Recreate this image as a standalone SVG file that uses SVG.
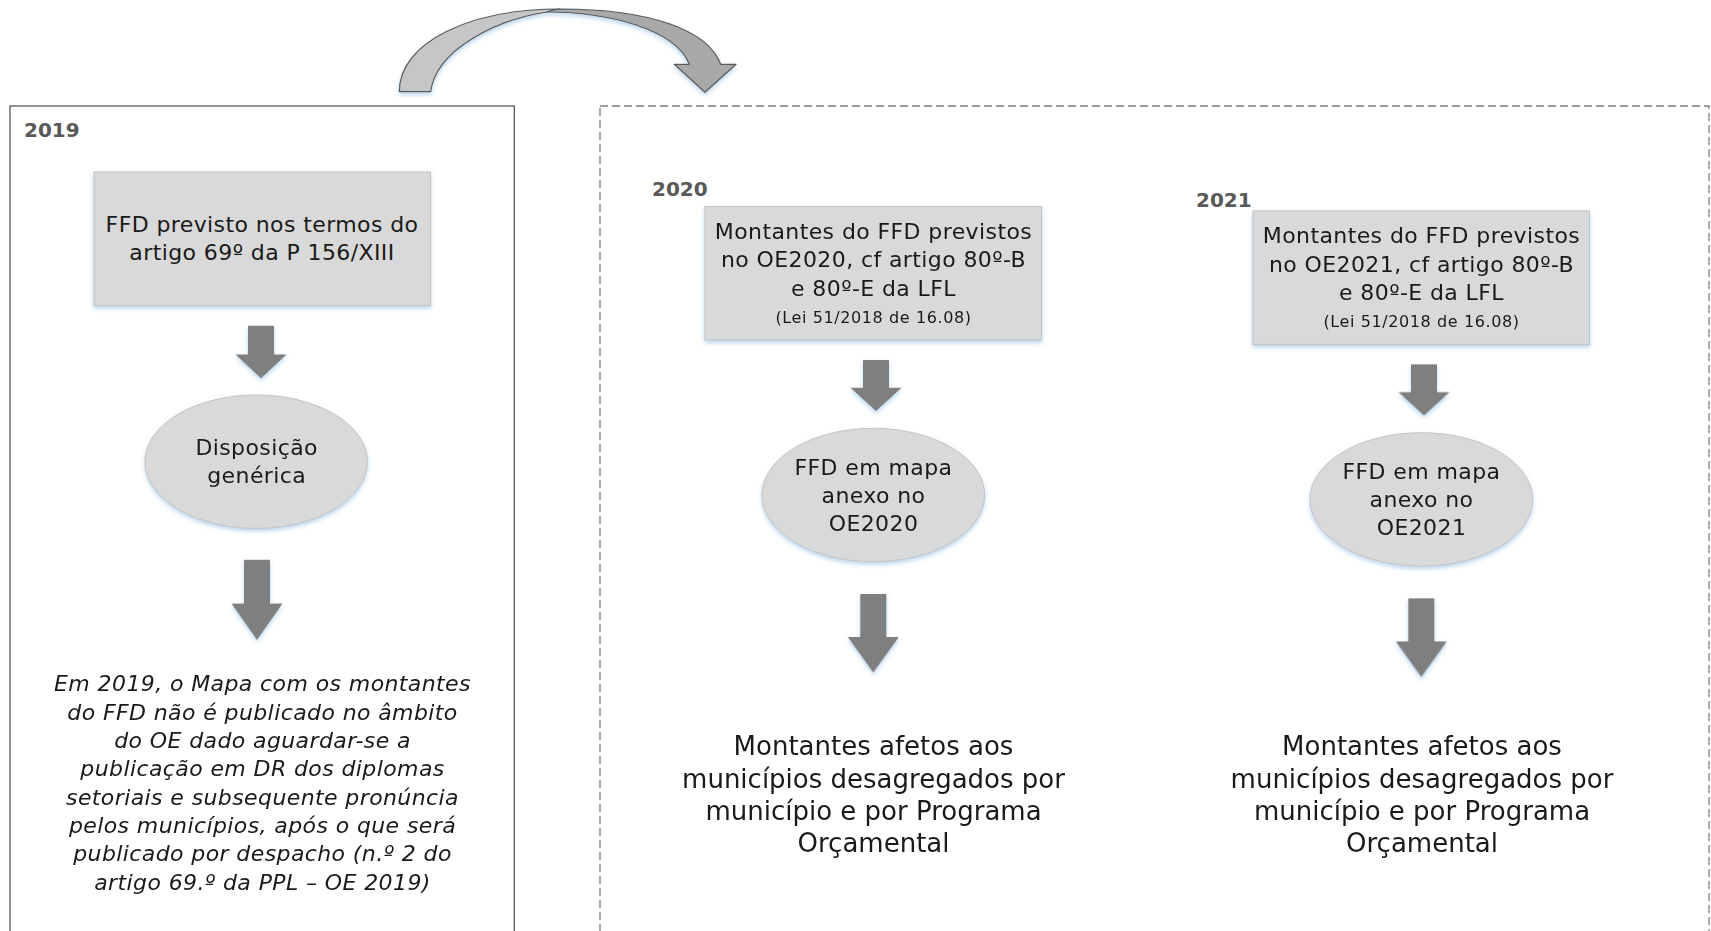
<svg xmlns="http://www.w3.org/2000/svg" width="1711" height="931" viewBox="0 0 1711 931">
<style>
.t{font-family:"DejaVu Sans","Verdana",sans-serif;font-size:22px;fill:#1a1a1a;text-anchor:middle;letter-spacing:0.4px}
.it{font-style:italic}
.sm{font-size:16px;letter-spacing:0.6px}
.big{font-size:26px;letter-spacing:0}
.yr{font-family:"DejaVu Sans","Verdana",sans-serif;font-size:20px;font-weight:bold;fill:#595959}
.box{fill:#d9d9d9;stroke:#c4c4c4;stroke-width:1}
.ell{fill:#d9d9d9;stroke:#c4c4c4;stroke-width:1}
.arr{fill:#7f7f7f}
</style>
<defs>
<filter id="sh" x="-20%" y="-20%" width="140%" height="150%">
<feDropShadow dx="0" dy="2.5" stdDeviation="2" flood-color="#9cc3e6" flood-opacity="0.7"/>
</filter>
<path id="dn" d="M-13,0 H13 V29 H25.5 L0,53 L-25.5,29 H-13 Z"/>
</defs>
<rect width="1711" height="931" fill="#ffffff"/>

<g id="frame2019">
<rect x="10" y="106" width="504.3" height="900" fill="none" stroke="#595959" stroke-width="1.3"/>
<text class="yr" x="24" y="137">2019</text>
</g>
<g id="frame2020-2021">
<rect x="600" y="106" width="1109" height="900" fill="none" stroke="#7f7f7f" stroke-width="1.3" stroke-dasharray="8,4"/>
<text class="yr" x="652" y="196">2020</text>
<text class="yr" x="1196" y="207">2021</text>
</g>

<g id="connectors">
<g id="curved-arrow" filter="url(#sh)" stroke="#595959" stroke-width="1.2" stroke-linejoin="round">
<path d="M399.3,91.7 C399.3,42 470,9 560,9 C555,9.5 551,10.5 547,12 C495,20 436,50 430.7,91.7 Z" fill="#c6c6c6"/>
<path d="M547,12 C605,12 675,28 689.3,64.3 L674.3,64.3 L705,92.3 L736,64.3 L720.7,64.3 C708,30 650,9 560,9 C555,9.5 551,10.5 547,12 Z" fill="#a9a9a9"/>
</g>
<g filter="url(#sh)">
<use href="#dn" class="arr" transform="translate(261,325.7) scale(1,0.99)"/>
<use href="#dn" class="arr" transform="translate(257,559.8) scale(1,1.51)"/>
<use href="#dn" class="arr" transform="translate(876,360) scale(1,0.96)"/>
<use href="#dn" class="arr" transform="translate(873.3,594) scale(1,1.48)"/>
<use href="#dn" class="arr" transform="translate(1424,364.4) scale(1,0.96)"/>
<use href="#dn" class="arr" transform="translate(1421.3,598.4) scale(1,1.48)"/>
</g>
</g>

<g id="box2019">
<rect class="box" x="94" y="172" width="336.5" height="133.5" filter="url(#sh)"/>
<text class="t" x="262" y="232.3">FFD previsto nos termos do</text>
<text class="t" x="262" y="260">artigo 69º da P 156/XIII</text>
</g>
<g id="ell2019">
<ellipse class="ell" cx="256.2" cy="461.7" rx="111.2" ry="66.7" filter="url(#sh)"/>
<text class="t" x="256.7" y="455">Disposição</text>
<text class="t" x="256.7" y="482.7">genérica</text>
</g>
<g id="text2019">
<text class="t it" x="262.5" y="691">Em 2019, o Mapa com os montantes</text>
<text class="t it" x="262.5" y="719.5">do FFD não é publicado no âmbito</text>
<text class="t it" x="262.5" y="748">do OE dado aguardar-se a</text>
<text class="t it" x="262.5" y="776.3">publicação em DR dos diplomas</text>
<text class="t it" x="262.5" y="804.6">setoriais e subsequente pronúncia</text>
<text class="t it" x="262.5" y="833">pelos municípios, após o que será</text>
<text class="t it" x="262.5" y="861.3">publicado por despacho (n.º 2 do</text>
<text class="t it" x="262.5" y="889.7">artigo 69.º da PPL – OE 2019)</text>
</g>

<g id="box2020">
<rect class="box" x="705" y="206.5" width="336.5" height="133.5" filter="url(#sh)"/>
<text class="t" x="873.5" y="239">Montantes do FFD previstos</text>
<text class="t" x="873.5" y="267.3">no OE2020, cf artigo 80º-B</text>
<text class="t" x="873.5" y="295.7">e 80º-E da LFL</text>
<text class="t sm" x="873.5" y="322.7">(Lei 51/2018 de 16.08)</text>
</g>
<g id="ell2020">
<ellipse class="ell" cx="873.3" cy="495" rx="111.3" ry="66.7" filter="url(#sh)"/>
<text class="t" x="873.5" y="475">FFD em mapa</text>
<text class="t" x="873.5" y="502.7">anexo no</text>
<text class="t" x="873.5" y="530.7">OE2020</text>
</g>
<g id="text2020">
<text class="t big" x="873.5" y="755">Montantes afetos aos</text>
<text class="t big" x="873.5" y="787.5">municípios desagregados por</text>
<text class="t big" x="873.5" y="820">município e por Programa</text>
<text class="t big" x="873.5" y="852">Orçamental</text>
</g>

<g id="box2021">
<rect class="box" x="1253" y="210.9" width="336.5" height="133.5" filter="url(#sh)"/>
<text class="t" x="1421.5" y="243.4">Montantes do FFD previstos</text>
<text class="t" x="1421.5" y="271.7">no OE2021, cf artigo 80º-B</text>
<text class="t" x="1421.5" y="300.1">e 80º-E da LFL</text>
<text class="t sm" x="1421.5" y="327.1">(Lei 51/2018 de 16.08)</text>
</g>
<g id="ell2021">
<ellipse class="ell" cx="1421.3" cy="499.4" rx="111.3" ry="66.7" filter="url(#sh)"/>
<text class="t" x="1421.5" y="479.4">FFD em mapa</text>
<text class="t" x="1421.5" y="507.1">anexo no</text>
<text class="t" x="1421.5" y="535.1">OE2021</text>
</g>
<g id="text2021">
<text class="t big" x="1422" y="755">Montantes afetos aos</text>
<text class="t big" x="1422" y="787.5">municípios desagregados por</text>
<text class="t big" x="1422" y="820">município e por Programa</text>
<text class="t big" x="1422" y="852">Orçamental</text>
</g>
</svg>
